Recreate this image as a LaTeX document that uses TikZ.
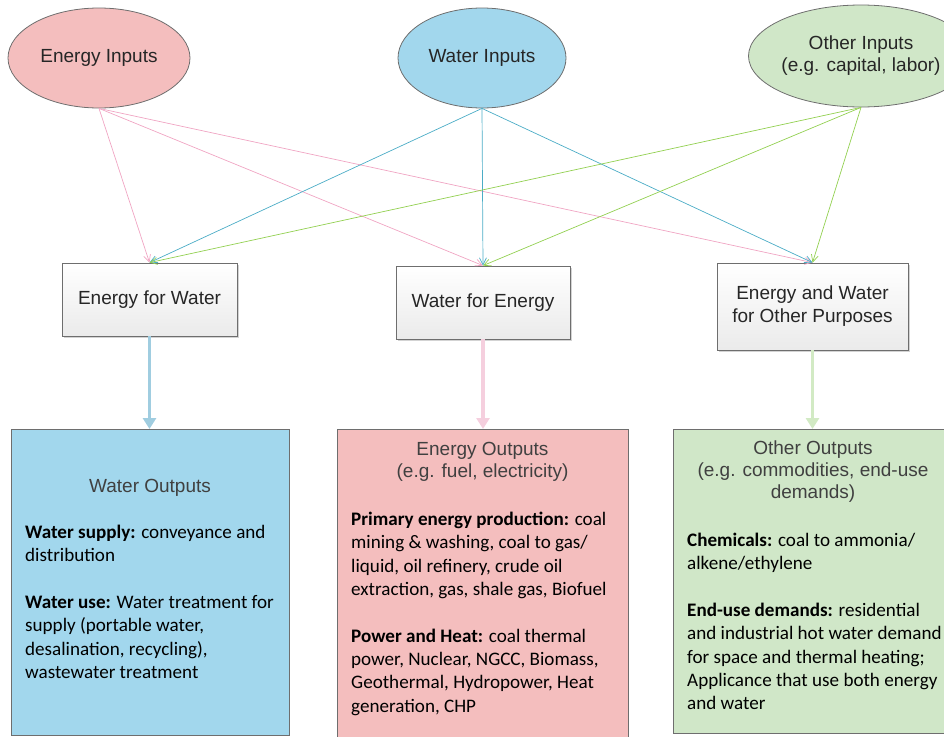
\documentclass[tikz,border=0pt]{standalone}
\usepackage{fontspec}
\setmainfont{Carlito}
\newfontfamily\arial{Liberation Sans}
\usetikzlibrary{shapes.geometric,arrows.meta,shadows}
\definecolor{eFill}{RGB}{244,190,190}
\definecolor{wFill}{RGB}{162,215,237}
\definecolor{oFill}{RGB}{208,231,200}
\definecolor{eLine}{RGB}{240,165,195}
\definecolor{wLine}{RGB}{75,172,198}
\definecolor{oLine}{RGB}{146,208,80}
\definecolor{eThick}{RGB}{245,207,222}
\definecolor{wThick}{RGB}{160,205,224}
\definecolor{oThick}{RGB}{210,234,196}
\definecolor{border}{RGB}{110,110,110}
\tikzset{
 inel/.style={ellipse, draw=border, line width=0.8pt, inner sep=0pt, font=\arial\fontsize{19}{22}\selectfont, text=black!85, align=center},
 midbox/.style={rectangle, draw=border, line width=0.8pt, top color=white, bottom color=black!8, drop shadow={shadow xshift=2pt, shadow yshift=-2pt, opacity=0.35, fill=gray}, font=\arial\fontsize{19}{23}\selectfont, text=black!85, align=center, inner sep=0pt},
 outbox/.style={rectangle, draw=border, line width=0.8pt, inner sep=0pt, anchor=north},
 otitle/.style={font=\arial\fontsize{19}{22}\selectfont, text=black!75, align=center, inner sep=0pt},
 obody/.style={font=\fontsize{19.1}{23.3}\selectfont, align=left, anchor=north west, inner sep=0pt},
 thinarrow/.style={line width=0.7pt, -{Straight Barb[length=7pt,width=7pt]}},
 thickarrow/.style={line width=3.5pt, -{Triangle[length=11pt,width=13pt]}},
}
\begin{document}
\begin{tikzpicture}[x=1pt,y=-1pt]
\useasboundingbox (0,0) rectangle (944,736);
\clip (0,0) rectangle (944,736);
% input ellipses
\node[inel, fill=eFill, minimum width=182pt, minimum height=100pt] (ei) at (99,58) {Energy Inputs};
\node[inel, fill=wFill, minimum width=168pt, minimum height=100pt] (wi) at (482,58) {Water Inputs};
\node[inel, fill=oFill, minimum width=166pt, minimum height=102pt] (oi) at (861,56) {Other Inputs\\(e.g. capital, labor)};
% middle boxes
\node[midbox, minimum width=175pt, minimum height=73pt] (efw) at (149.5,299.5) {Energy for Water};
\node[midbox, minimum width=174pt, minimum height=73pt] (wfe) at (483,302.5) {Water for Energy};
\node[midbox, minimum width=191pt, minimum height=87pt] (ewo) at (812.5,306.5) {Energy and Water\\for Other Purposes};
% output boxes
\node[outbox, fill=wFill, minimum width=278pt, minimum height=306pt] (wo) at (150,429) {};
\node[outbox, fill=eFill, minimum width=291pt, minimum height=330pt] (eo) at (482.5,429) {};
\node[outbox, fill=oFill, minimum width=282pt, minimum height=304pt] (oo) at (814,429) {};
% output titles
\node[otitle] (wot) at (150,488) {Water Outputs};
\node[otitle] (eot) at (482.5,462) {Energy Outputs\\(e.g. fuel, electricity)};
\node[otitle] (oot) at (813,472) {Other Outputs\\(e.g. commodities, end-use\\demands)};
% output bodies
\node[obody] (wob) at (25,525) {\textbf{Water supply:} conveyance and\\distribution\\[23.3pt]\textbf{Water use:} Water treatment for\\supply (portable water,\\desalination, recycling),\\wastewater treatment};
\node[obody] (eob) at (351,512) {\textbf{Primary energy production:} coal\\mining \& washing, coal to gas/\\liquid, oil refinery, crude oil\\extraction, gas, shale gas, Biofuel\\[23.3pt]\textbf{Power and Heat:} coal thermal\\power, Nuclear, NGCC, Biomass,\\Geothermal, Hydropower, Heat\\generation, CHP};
\node[obody] (oob) at (687,533) {\textbf{Chemicals:} coal to ammonia/\\alkene/ethylene\\[23.3pt]\textbf{End-use demands:} residential\\and industrial hot water demand\\for space and thermal heating;\\Applicance that use both energy\\and water};
% thin arrows
\draw[thinarrow, eLine] (ei.south) -- (efw.north);
\draw[thinarrow, eLine] (ei.south) -- (wfe.north);
\draw[thinarrow, eLine] (ei.south) -- (ewo.north);
\draw[thinarrow, wLine] (wi.south) -- (efw.north);
\draw[thinarrow, wLine] (wi.south) -- (wfe.north);
\draw[thinarrow, wLine] (wi.south) -- (ewo.north);
\draw[thinarrow, oLine] (oi.south) -- (efw.north);
\draw[thinarrow, oLine] (oi.south) -- (wfe.north);
\draw[thinarrow, oLine] (oi.south) -- (ewo.north);
% thick arrows
\draw[thickarrow, wThick] (efw.south) -- (efw.south |- wo.north);
\draw[thickarrow, eThick] (wfe.south) -- (wfe.south |- eo.north);
\draw[thickarrow, oThick] (ewo.south) -- (ewo.south |- oo.north);
\end{tikzpicture}
\end{document}
